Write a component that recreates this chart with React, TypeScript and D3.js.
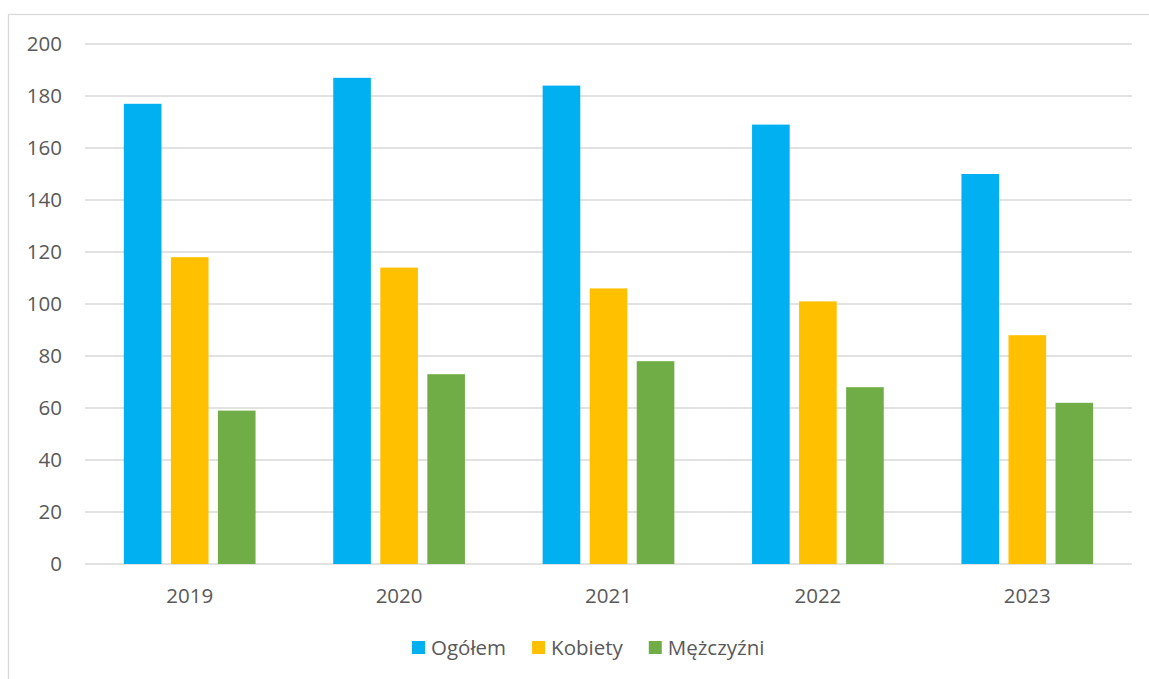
import React, { useEffect, useRef } from 'react';
import * as d3 from 'd3';

const years = ['2019', '2020', '2021', '2022', '2023'];
const seriesNames = ['Ogółem', 'Kobiety', 'Mężczyźni'];
const ogolem = [177, 187, 184, 169, 150];
const kobiety = [118, 114, 106, 101, 88];
const mezczyzni = [59, 73, 78, 68, 62];
const yTicks = [0, 20, 40, 60, 80, 100, 120, 140, 160, 180, 200];
const colors = ['#00B0F0', '#FFC000', '#70AD47'];

const App: React.FC = () => {
  const svgRef = useRef<SVGSVGElement>(null);

  useEffect(() => {
    if (!svgRef.current) return;
    const svg = d3.select(svgRef.current);
    svg.selectAll('*').remove();

    const font = '"Open Sans", "Liberation Sans", sans-serif';
    const fontSize = 20.5;
    const textColor = '#595959';
    const left = 85, right = 1132, top = 44, bottom = 564;

    // chart frame (runs off the right and bottom edges)
    svg.append('rect')
      .attr('x', 8.5).attr('y', 14.5)
      .attr('width', 1200).attr('height', 700)
      .attr('fill', '#fff')
      .attr('stroke', '#d9d9d9').attr('stroke-width', 1.3);

    const x = d3.scaleBand<string>().domain(years).range([left, right]);
    const step = x.bandwidth();
    const outer = 38.85;
    const xs = d3.scaleBand<string>().domain(seriesNames)
      .range([outer, step - outer]).paddingInner(0.2);
    const y = d3.scaleLinear().domain([0, 200]).range([bottom, top]);

    // gridlines + y labels
    yTicks.forEach(t => {
      svg.append('line')
        .attr('x1', left).attr('x2', right)
        .attr('y1', y(t)).attr('y2', y(t))
        .attr('stroke', '#d9d9d9').attr('stroke-width', 1.3);
      svg.append('text')
        .attr('x', 62).attr('y', y(t))
        .attr('dy', '0.36em')
        .attr('text-anchor', 'end')
        .attr('font-family', font).attr('font-size', fontSize)
        .attr('fill', textColor)
        .text(t);
    });

    const data = [ogolem, kobiety, mezczyzni];
    data.forEach((vals, si) => {
      svg.append('g').selectAll('rect')
        .data(vals)
        .join('rect')
        .attr('x', (_, i) => (x(years[i]) as number) + (xs(seriesNames[si]) as number))
        .attr('y', d => y(d))
        .attr('width', xs.bandwidth())
        .attr('height', d => bottom - y(d))
        .attr('fill', colors[si]);
    });

    // x labels
    years.forEach(yr => {
      svg.append('text')
        .attr('x', (x(yr) as number) + step / 2)
        .attr('y', 603)
        .attr('text-anchor', 'middle')
        .attr('font-family', font).attr('font-size', fontSize)
        .attr('fill', textColor)
        .text(yr);
    });

    // legend
    const legend = svg.append('g');
    let lx = 412;
    seriesNames.forEach((name, i) => {
      legend.append('rect')
        .attr('x', lx).attr('y', 641)
        .attr('width', 13).attr('height', 13)
        .attr('fill', colors[i]);
      const t = legend.append('text')
        .attr('x', lx + 19).attr('y', 655)
        .attr('font-family', font).attr('font-size', fontSize)
        .attr('fill', textColor)
        .text(name);
      const w = (t.node() as SVGTextElement).getComputedTextLength();
      lx += 19 + w + 26;
    });
  }, []);

  return (
    <svg
      ref={svgRef}
      width={1149}
      height={679}
      style={{ position: 'absolute', left: 0, top: 0, background: '#fff' }}
    />
  );
};

export default App;
